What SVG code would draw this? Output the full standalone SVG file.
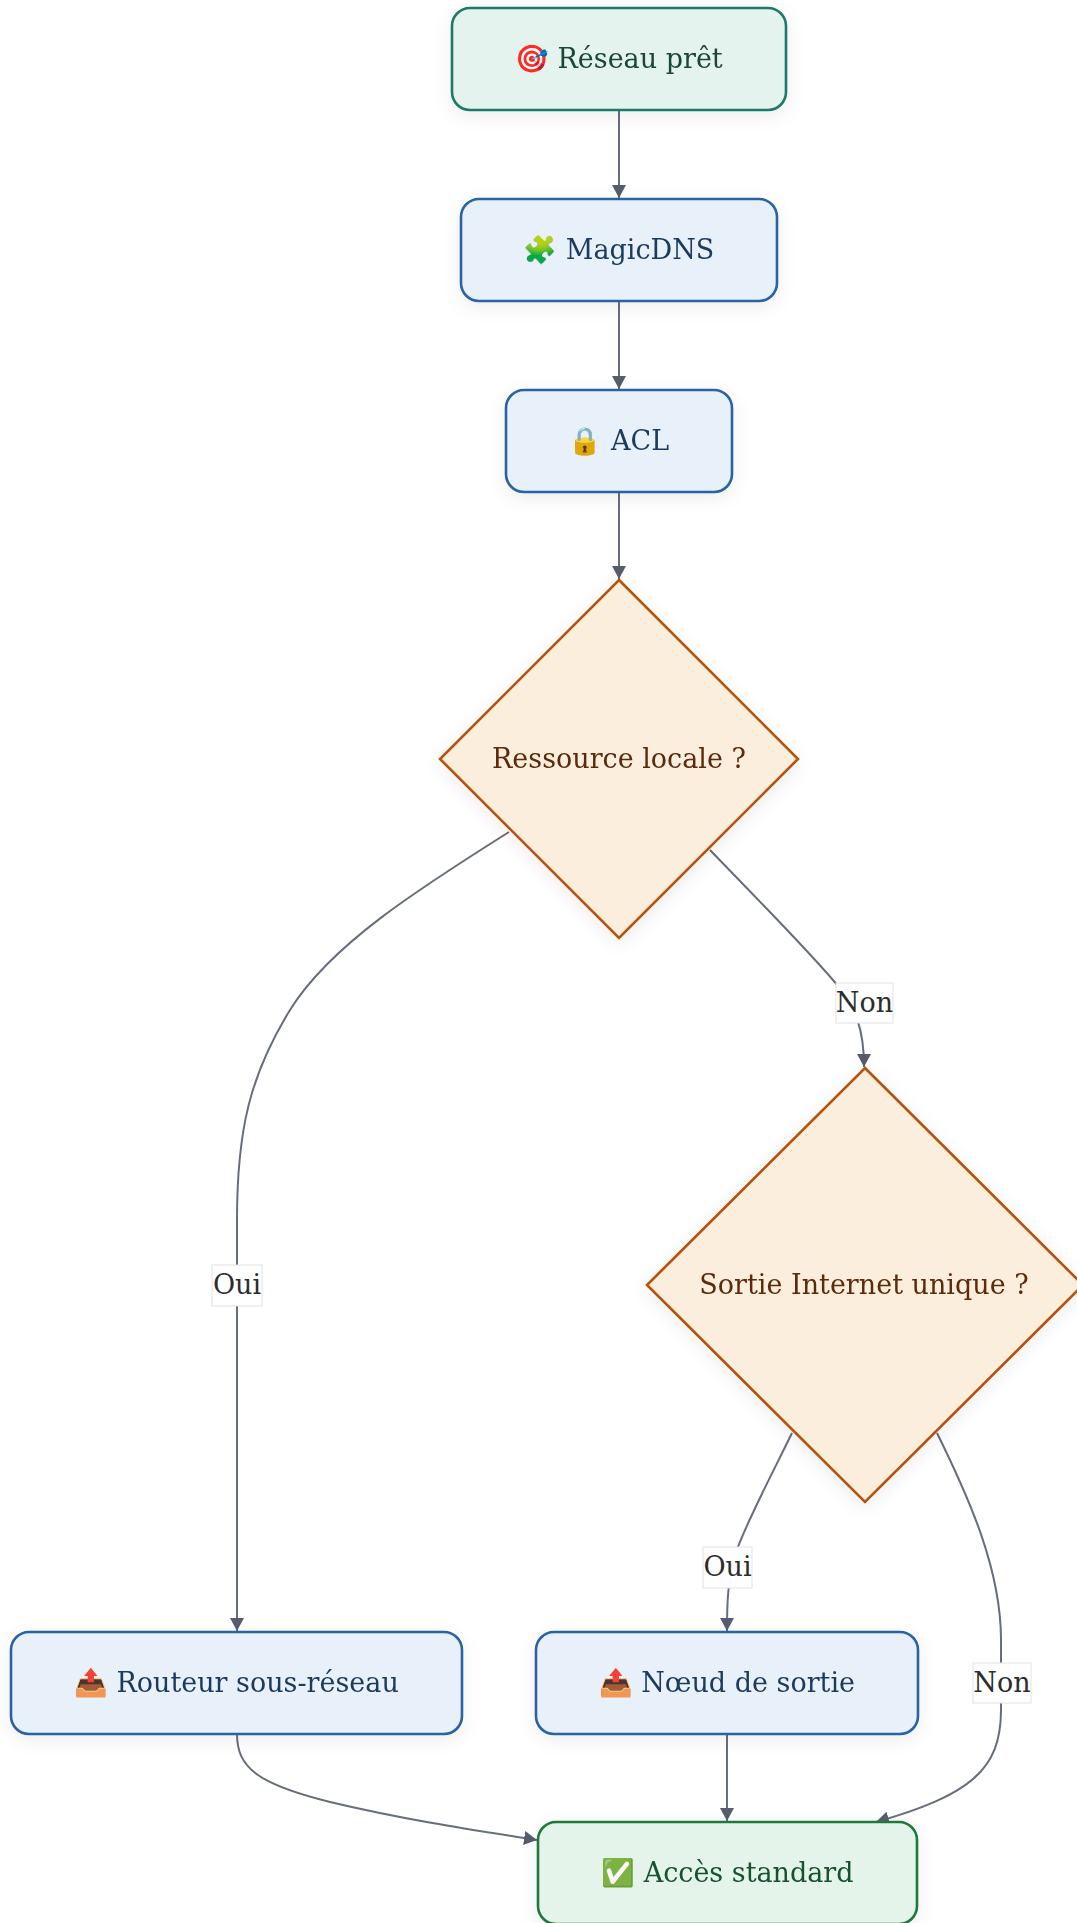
<svg xmlns="http://www.w3.org/2000/svg" width="1077" height="1923" viewBox="0 0 1077 1923">
<style>
text{font-family:"DejaVu Serif","Liberation Serif","Noto Color Emoji",serif;font-size:27px;text-anchor:middle}
.blue rect{fill:#e8f0fa;stroke:#2b62a3;stroke-width:2.6}
.blue text{fill:#1b3a5c}
.dia polygon{fill:#fbeedd;stroke:#b5530f;stroke-width:2.6}
.dia text{fill:#5c2a0a}
.edge{fill:none;stroke:#666d7c;stroke-width:2}
.lbl rect{fill:#fff;stroke:#e2e2e2;stroke-width:1}
.lbl text{fill:#2d2d2d}
</style>
<defs>
<filter id="sh" x="-20%" y="-20%" width="140%" height="160%">
<feDropShadow dx="0" dy="5" stdDeviation="9" flood-color="#000" flood-opacity="0.07"/>
</filter>
<marker id="ar" markerUnits="userSpaceOnUse" markerWidth="15" markerHeight="15" refX="13" refY="7" orient="auto">
<path d="M0,0 L13,7 L0,14 z" fill="#565e6e"/>
</marker>
</defs>
<rect width="1077" height="1923" fill="#ffffff"/>
<g id="connectors">
<path class="edge" d="M619,110 L619,198" marker-end="url(#ar)"/>
<path class="edge" d="M619,301 L619,389" marker-end="url(#ar)"/>
<path class="edge" d="M619,492 L619,579" marker-end="url(#ar)"/>
<path class="edge" d="M509,832 C420,888 330,945 290,1010 C250,1075 237,1130 237,1220 L237,1631" marker-end="url(#ar)"/>
<path class="edge" d="M710,850 C760,902 810,952 838,986 C856,1008 864,1030 864,1067" marker-end="url(#ar)"/>
<path class="edge" d="M792,1433 C770,1478 745,1525 735,1555 C728,1580 727,1600 727,1631" marker-end="url(#ar)"/>
<path class="edge" d="M937,1433 C970,1500 1001,1570 1001,1640 L1001,1710 C1001,1770 970,1795 876,1822" marker-end="url(#ar)"/>
<path class="edge" d="M237,1734 C237,1768 258,1784 330,1802 C410,1821 480,1831 537,1840" marker-end="url(#ar)"/>
<path class="edge" d="M727,1734 L727,1821" marker-end="url(#ar)"/>
<g class="lbl"><rect x="212" y="1265" width="50" height="41"/><text x="237" y="1294">Oui</text></g>
<g class="lbl"><rect x="836" y="983" width="57" height="40"/><text x="864.5" y="1012">Non</text></g>
<g class="lbl"><rect x="703" y="1547" width="49" height="41"/><text x="727.5" y="1576">Oui</text></g>
<g class="lbl"><rect x="973" y="1663" width="58" height="40"/><text x="1002" y="1692">Non</text></g>
</g>
<g id="n1" filter="url(#sh)"><rect x="452" y="8" width="334" height="102" rx="18" fill="#e4f3ed" stroke="#1b7a66" stroke-width="2.6"/><text x="619" y="68" fill="#1a4738">🎯 Réseau prêt</text></g>
<g id="n2" class="blue" filter="url(#sh)"><rect x="461" y="199" width="316" height="102" rx="18"/><text x="619" y="259">🧩 MagicDNS</text></g>
<g id="n3" class="blue" filter="url(#sh)"><rect x="506" y="390" width="226" height="102" rx="18"/><text x="619" y="450">🔒 ACL</text></g>
<g id="d1" class="dia" filter="url(#sh)"><polygon points="619,580 798,759 619,938 440,759"/><text x="619" y="768">Ressource locale ?</text></g>
<g id="d2" class="dia" filter="url(#sh)"><polygon points="865,1068 1083,1285 865,1502 647,1285"/><text x="864" y="1294">Sortie Internet unique ?</text></g>
<g id="n4" class="blue" filter="url(#sh)"><rect x="11" y="1632" width="451" height="102" rx="18"/><text x="236.5" y="1692">📤 Routeur sous-réseau</text></g>
<g id="n5" class="blue" filter="url(#sh)"><rect x="536" y="1632" width="382" height="102" rx="18"/><text x="727" y="1692">📤 Nœud de sortie</text></g>
<g id="n6" filter="url(#sh)"><rect x="538" y="1822" width="379" height="102" rx="18" fill="#e5f4ea" stroke="#1d7a3a" stroke-width="2.6"/><text x="727.5" y="1882" fill="#14532d">✅ Accès standard</text></g>
</svg>
